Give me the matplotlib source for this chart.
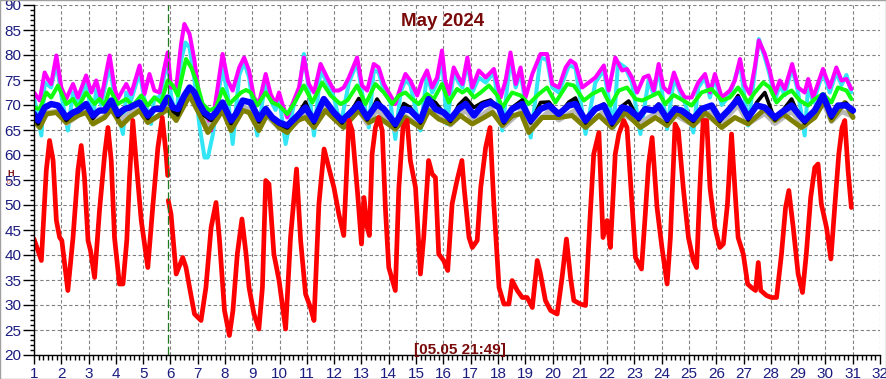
import numpy as np
import matplotlib
matplotlib.use("Agg")
import matplotlib.pyplot as plt
from matplotlib.ticker import MultipleLocator

plt.rcParams["font.family"] = ["Liberation Sans", "DejaVu Sans"]

# Dados (dia do mês, valor)
red_day = [1.00, 1.27, 1.45, 1.57, 1.70, 1.82, 1.94, 2.02, 2.24, 2.43, 2.61, 2.73, 2.85, 2.98, 3.07, 3.22,
           3.40, 3.59, 3.71, 3.83, 3.95, 4.13, 4.26, 4.40, 4.50, 4.62, 4.74, 4.93, 5.17, 5.35, 5.54, 5.70,
           5.84, 5.90, 5.91, 5.92, 6.02, 6.21, 6.45, 6.57, 6.70, 6.88, 7.12, 7.30, 7.49, 7.67, 7.79, 7.98,
           8.16, 8.29, 8.45, 8.62, 8.77, 8.88, 9.06, 9.24, 9.37, 9.49, 9.61, 9.79, 9.98, 10.22, 10.40, 10.62,
           10.77, 10.95, 11.13, 11.26, 11.44, 11.63, 11.80, 11.99, 12.17, 12.35, 12.54, 12.66, 12.87, 13.00,
           13.09, 13.21, 13.29, 13.39, 13.51, 13.63, 13.76, 13.88, 14.00, 14.24, 14.37, 14.52, 14.67, 14.79,
           14.98, 15.16, 15.28, 15.46, 15.59, 15.71, 15.83, 16.01, 16.16, 16.32, 16.50, 16.68, 16.76, 16.94,
           17.06, 17.24, 17.37, 17.55, 17.71, 17.85, 18.04, 18.22, 18.40, 18.52, 18.71, 18.89, 19.07, 19.26,
           19.44, 19.56, 19.74, 19.93, 20.17, 20.35, 20.51, 20.66, 20.78, 21.02, 21.21, 21.37, 21.51, 21.70,
           21.85, 22.00, 22.12, 22.30, 22.43, 22.61, 22.73, 22.85, 23.04, 23.26, 23.40, 23.52, 23.65, 23.83,
           24.01, 24.20, 24.32, 24.49, 24.61, 24.79, 24.98, 25.16, 25.28, 25.40, 25.52, 25.65, 25.77, 25.95,
           26.13, 26.26, 26.41, 26.56, 26.68, 26.80, 26.99, 27.15, 27.29, 27.44, 27.54, 27.63, 27.84, 28.02,
           28.21, 28.39, 28.54, 28.66, 28.82, 29.00, 29.16, 29.30, 29.46, 29.61, 29.73, 29.85, 30.04, 30.20,
           30.34, 30.49, 30.61, 30.71, 30.83, 30.95]
red_val = [43.2, 38.9, 56.9, 62.9, 58.9, 46.9, 43.5, 42.9, 32.9, 43.5, 56.9, 61.9, 55.5, 42.9, 40.9, 35.5,
           48.9, 60.2, 65.5, 58.9, 43.5, 34.2, 34.2, 42.9, 55.5, 66.9, 58.9, 46.9, 37.5, 49.5, 61.5, 67.5,
           60.2, 55.9, np.nan, 50.9, 48.2, 36.2, 39.5, 37.5, 33.5, 28.2, 26.9, 33.5, 45.5, 50.5, 43.5, 28.9,
           23.9, 28.9, 40.2, 47.2, 40.2, 33.5, 28.2, 25.2, 33.5, 54.9, 54.2, 40.2, 34.9, 25.2, 43.5, 57.2,
           42.9, 32.2, 29.5, 26.9, 50.2, 61.2, 57.5, 53.5, 48.2, 43.9, 66.9, 64.9, 51.5, 42.2,
           51.5, 45.5, 43.9, 60.2, 65.5, 67.5, 64.9, 48.9, 37.5, 32.9, 53.5, 65.5, 66.9, 58.9,
           53.5, 36.2, 43.5, 58.9, 56.2, 55.5, 40.2, 38.9, 36.9, 50.2, 54.9, 58.9, 53.5, 43.5,
           41.5, 42.9, 53.5, 61.5, 65.5, 50.2, 33.5, 30.2, 30.2, 34.9, 32.9, 31.5, 31.5, 29.5,
           38.9, 36.2, 30.9, 28.9, 28.2, 35.5, 43.2, 35.5, 30.9, 30.2, 29.9, 46.9, 60.2, 64.5,
           43.5, 46.9, 41.5, 60.2, 64.2, 66.9, 65.5, 55.5, 39.5, 37.2, 48.2, 58.2, 63.5, 49.5,
           41.5, 34.2, 43.5, 66.2, 64.9, 53.5, 43.5, 38.9, 37.5, 53.5, 66.9, 66.9, 53.5, 45.5,
           41.5, 42.2, 50.2, 64.2, 53.5, 43.5, 40.2, 34.2, 33.5, 32.9, 38.5, 32.9, 31.9, 31.5,
           31.5, 40.2, 49.5, 52.9, 45.5, 36.2, 32.5, 40.2, 51.5, 57.5, 58.2, 50.2, 45.5, 39.2,
           49.5, 60.2, 65.5, 66.9, 56.9, 49.5]

magenta_day = [1.00, 1.21, 1.39, 1.51, 1.63, 1.82, 2.00, 2.18, 2.43, 2.61, 2.91, 3.10, 3.28, 3.46, 3.77, 3.95,
               4.07, 4.38, 4.56, 4.87, 5.05, 5.23, 5.41, 5.60, 5.78, 5.90, 6.02, 6.21, 6.39, 6.51, 6.70, 6.88,
               7.06, 7.30, 7.49, 7.73, 7.91, 8.10, 8.28, 8.52, 8.70, 8.88, 9.06, 9.24, 9.49, 9.67, 9.85, 9.98,
               10.10, 10.28, 10.52, 10.71, 10.89, 11.07, 11.26, 11.50, 11.74, 11.99, 12.17, 12.35, 12.54, 12.84,
               13.02, 13.21, 13.45, 13.63, 13.82, 14.06, 14.24, 14.43, 14.61, 14.79, 15.04, 15.22, 15.40, 15.59,
               15.77, 15.95, 16.07, 16.20, 16.38, 16.56, 16.70, 16.88, 17.06, 17.30, 17.55, 17.85, 18.10, 18.28,
               18.46, 18.65, 18.83, 19.01, 19.26, 19.56, 19.80, 19.99, 20.23, 20.48, 20.66, 20.84, 21.09, 21.33,
               21.57, 21.88, 22.06, 22.30, 22.55, 22.73, 22.91, 23.10, 23.34, 23.52, 23.71, 23.89, 24.07, 24.26,
               24.45, 24.67, 24.85, 25.10, 25.34, 25.59, 25.77, 25.95, 26.20, 26.50, 26.68, 26.87, 27.05, 27.23,
               27.41, 27.56, 27.78, 27.96, 28.15, 28.33, 28.51, 28.78, 29.00, 29.24, 29.37, 29.55, 29.91, 30.16,
               30.40, 30.59, 30.77, 30.95]
magenta_val = [72.5, 70.9, 76.5, 75.2, 74.2, 79.9, 73.5, 71.2, 74.2, 71.5, 75.9, 72.5, 74.9, 71.2, 79.9, 73.5,
               71.2, 74.2, 72.2, 77.9, 72.2, 76.2, 72.9, 72.5, 77.5, 80.5, 73.5, 73.5, 82.2, 86.2, 84.2, 78.9,
               71.5, 67.5, 64.9, 73.5, 80.2, 74.9, 72.9, 77.5, 79.5, 76.9, 71.5, 70.2, 76.2, 72.2, 70.2, 72.5,
               70.2, 67.5, 70.9, 73.5, 79.5, 74.2, 72.5, 78.2, 75.5, 72.9, 72.9, 73.5, 75.5, 79.5,
               73.9, 72.9, 78.2, 77.5, 74.2, 71.9, 70.2, 73.5, 76.2, 74.9, 71.9, 74.9, 76.9, 73.5,
               75.5, 80.9, 74.9, 72.2, 77.5, 75.5, 74.2, 79.5, 73.5, 76.9, 75.5, 77.2, 71.5, 74.9,
               80.5, 74.2, 77.5, 71.5, 76.2, 80.2, 80.2, 74.2, 73.5, 77.5, 78.9, 78.2, 73.5, 74.5,
               75.5, 77.9, 72.9, 79.5, 76.9, 77.2, 75.5, 72.5, 75.5, 75.9, 72.9, 78.2, 73.5, 72.5,
               76.5, 73.2, 71.5, 71.5, 74.5, 76.2, 72.5, 76.2, 71.5, 72.9, 74.9, 79.2, 73.9, 72.2,
               77.5, 82.9, 80.2, 76.9, 72.2, 74.9, 73.2, 78.2, 73.5, 72.5, 75.2, 71.5, 77.2, 73.5,
               77.5, 74.9, 75.2, 73.2]

cyan_day = [1.00, 1.27, 1.39, 1.51, 1.63, 1.82, 2.00, 2.24, 2.43, 2.61, 2.91, 3.16, 3.28, 3.46, 3.77, 4.00,
            4.26, 4.38, 4.56, 4.87, 5.05, 5.29, 5.41, 5.60, 5.90, 6.02, 6.21, 6.39, 6.55, 6.70, 6.88, 7.06,
            7.25, 7.37, 7.55, 7.73, 7.91, 8.10, 8.28, 8.52, 8.70, 8.88, 9.18, 9.49, 9.67, 9.85, 9.98, 10.22,
            10.52, 10.71, 10.89, 11.07, 11.26, 11.50, 11.74, 11.99, 12.23, 12.54, 12.84, 13.02, 13.27, 13.45,
            13.63, 13.82, 14.06, 14.24, 14.43, 14.61, 14.79, 15.16, 15.40, 15.59, 15.77, 15.95, 16.13, 16.38,
            16.56, 16.70, 16.88, 17.06, 17.30, 17.55, 17.85, 18.16, 18.46, 18.65, 18.83, 19.20, 19.56, 19.80,
            19.99, 20.23, 20.60, 20.84, 21.21, 21.57, 21.88, 22.24, 22.40, 22.67, 22.91, 23.22, 23.52, 23.71,
            23.89, 24.20, 24.45, 24.67, 24.85, 25.16, 25.34, 25.59, 25.77, 25.95, 26.20, 26.50, 26.87, 27.17,
            27.41, 27.56, 27.78, 27.96, 28.15, 28.33, 28.51, 28.78, 29.00, 29.24, 29.37, 29.55, 29.91, 30.16,
            30.40, 30.59, 30.77, 30.95]
cyan_val = [71.5, 63.9, 74.5, 74.0, 73.5, 78.5, 72.0, 64.9, 72.5, 70.5, 74.5, 66.9, 73.0, 70.0, 78.0, 70.0,
            64.2, 72.5, 71.0, 76.5, 71.0, 66.2, 71.5, 71.5, 79.0, 72.0, 66.9, 79.0, 82.5, 81.5, 75.0, 66.0,
            59.5, 59.5, 64.0, 71.5, 77.5, 72.0, 62.2, 76.0, 78.5, 75.5, 63.9, 75.0, 71.0, 69.0, 71.5, 62.2,
            70.0, 72.5, 80.2, 73.0, 63.9, 77.0, 74.5, 71.5, 65.9, 74.5, 78.5, 72.5, 65.5, 77.0,
            76.5, 73.0, 70.5, 63.2, 72.5, 75.0, 74.0, 64.9, 76.0, 72.5, 74.5, 79.5, 66.2, 76.5,
            74.5, 73.5, 78.5, 72.5, 75.5, 74.5, 76.5, 64.9, 79.5, 73.5, 76.5, 63.5, 79.5, 79.0,
            73.5, 72.5, 77.9, 77.5, 64.2, 74.5, 77.0, 65.5, 78.5, 77.5, 74.5, 64.2, 75.0, 72.0,
            77.5, 65.2, 75.5, 72.5, 70.5, 64.5, 73.5, 75.5, 71.5, 75.5, 70.0, 72.0, 78.5, 65.9,
            76.5, 83.2, 79.5, 76.0, 71.0, 74.0, 72.0, 77.5, 72.5, 63.9, 74.0, 70.5, 76.5, 72.5,
            76.5, 74.0, 76.0, 72.5]

green_day = [1.00, 1.21, 1.45, 1.63, 1.88, 2.18, 2.43, 2.61, 2.91, 3.22, 3.40, 3.59, 3.77, 4.07, 4.38, 4.62,
             4.93, 5.17, 5.41, 5.66, 5.90, 6.09, 6.27, 6.57, 6.76, 6.94, 7.18, 7.43, 7.67, 7.91, 8.16, 8.34,
             8.59, 8.77, 8.94, 9.18, 9.49, 9.73, 9.98, 10.28, 10.52, 10.89, 11.20, 11.56, 11.87, 12.23, 12.48,
             12.84, 13.15, 13.51, 13.82, 14.12, 14.37, 14.61, 14.85, 15.10, 15.40, 15.65, 15.95, 16.20, 16.50,
             16.70, 16.88, 17.12, 17.37, 17.67, 17.98, 18.16, 18.52, 18.83, 19.13, 19.50, 19.80, 20.11, 20.54,
             20.78, 21.15, 21.45, 21.82, 22.12, 22.43, 22.73, 23.04, 23.28, 23.52, 23.89, 24.13, 24.44, 24.79,
             25.10, 25.46, 25.83, 26.20, 26.50, 26.80, 27.17, 27.41, 27.72, 27.96, 28.21, 28.45, 28.76, 29.06,
             29.37, 29.61, 29.91, 30.22, 30.46, 30.77, 30.95]
green_val = [69.5, 69.2, 72.5, 71.5, 73.9, 70.2, 71.2, 69.5, 72.5, 70.2, 71.2, 69.9, 73.2, 70.2, 71.2, 69.9,
             71.9, 69.9, 71.5, 70.5, 74.9, 73.9, 71.9, 79.2, 77.5, 74.9, 70.2, 68.9, 69.5, 73.2, 70.2, 71.2,
             72.5, 73.0, 72.5, 69.9, 72.5, 70.5, 69.9, 68.2, 70.2, 73.9, 70.5, 74.5, 71.9, 70.2, 70.9,
             73.9, 70.2, 74.2, 72.5, 70.2, 71.9, 72.5, 71.2, 70.2, 72.2, 71.2, 74.2, 70.5, 73.2,
             72.5, 73.2, 71.5, 72.5, 73.9, 71.9, 69.5, 72.5, 71.9, 70.2, 72.2, 73.5, 70.5, 74.2,
             73.9, 70.9, 72.2, 73.2, 69.9, 72.9, 73.5, 71.2, 70.9, 71.5, 72.5, 70.2, 72.0, 70.9,
             69.9, 72.5, 73.2, 70.9, 71.5, 73.5, 70.5, 72.5, 74.5, 73.5, 70.5, 71.9, 72.9, 70.9,
             69.9, 71.2, 72.2, 70.5, 73.5, 72.9, 71.2]

gray_day = [1.00, 1.20, 1.50, 1.90, 2.20, 2.60, 2.90, 3.20, 3.60, 3.85, 4.10, 4.50, 4.90, 5.20, 5.60, 5.90,
            6.20, 6.70, 7.06, 7.35, 7.70, 7.90, 8.20, 8.65, 8.90, 9.25, 9.50, 10.00, 10.28, 10.60, 10.95,
            11.26, 11.62, 12.00, 12.30, 12.90, 13.21, 13.57, 14.24, 14.55, 15.16, 15.46, 16.00, 16.26, 16.82,
            17.12, 17.73, 18.22, 18.89, 19.20, 19.87, 20.23, 20.84, 21.21, 21.88, 22.18, 22.55, 23.16, 23.89,
            24.20, 24.49, 25.16, 25.83, 26.13, 26.80, 27.17, 27.78, 28.15, 28.76, 29.24, 29.91, 30.22, 30.60,
            31.01]
gray_val = [67.0, 65.8, 68.5, 68.8, 66.3, 67.8, 69.0, 66.6, 67.8, 69.6, 66.8, 68.3, 69.3, 66.6, 68.0, 70.2,
            67.8, 72.2, 69.0, 65.6, 67.4, 69.4, 65.6, 69.6, 69.2, 65.9, 68.0, 65.3, 64.8, 66.4, 68.3,
            65.7, 70.0, 67.3, 65.7, 69.0, 66.3, 69.0, 65.0, 68.0, 65.7, 70.0, 67.3, 66.0, 69.0,
            66.7, 69.3, 65.7, 69.0, 65.7, 68.7, 67.0, 69.0, 65.7, 68.7, 65.3, 68.3, 66.3, 68.7,
            66.0, 68.0, 66.0, 68.7, 66.0, 70.0, 66.3, 68.3, 66.3, 68.7, 65.7, 70.7, 66.7, 68.7,
            67.7]

olive_day = [1.00, 1.21, 1.45, 1.82, 2.18, 2.61, 2.91, 3.16, 3.59, 3.83, 4.20, 4.50, 4.87, 5.17, 5.66, 5.90,
             6.21, 6.70, 7.06, 7.37, 7.67, 7.91, 8.22, 8.65, 8.88, 9.24, 9.55, 9.98, 10.28, 10.65, 10.95,
             11.26, 11.68, 12.00, 12.35, 12.90, 13.27, 13.63, 14.24, 14.61, 15.16, 15.46, 15.83, 16.26, 16.62,
             17.06, 17.49, 17.80, 18.16, 18.52, 18.85, 19.13, 19.62, 20.23, 20.72, 21.21, 21.70, 22.18, 22.67,
             23.22, 23.77, 24.20, 24.58, 25.16, 25.59, 26.20, 26.68, 27.17, 27.78, 28.15, 28.45, 29.12, 29.61,
             29.98, 30.22, 30.71, 31.01]
olive_val = [66.9, 65.5, 68.2, 68.5, 66.5, 67.9, 68.5, 66.2, 67.5, 69.2, 65.9, 67.5, 68.9, 66.5, 68.2, 69.2,
             66.9, 71.9, 68.2, 64.5, 66.9, 68.9, 64.9, 68.9, 68.5, 64.9, 68.2, 65.5, 64.5, 66.9, 67.5,
             65.5, 68.9, 67.2, 65.5, 68.9, 66.5, 67.5, 65.2, 67.5, 65.5, 68.9, 67.2, 66.2, 67.9,
             66.2, 67.5, 68.5, 65.9, 67.8, 68.3, 64.5, 67.5, 67.5, 67.9, 65.5, 67.9, 65.5, 68.5,
             65.5, 67.5, 65.9, 68.5, 65.9, 68.5, 65.5, 67.5, 66.2, 69.2, 66.9, 68.2, 65.5, 67.5,
             71.0, 66.9, 70.5, 67.5]

blue_day = [1.00, 1.15, 1.39, 1.63, 1.88, 2.18, 2.43, 2.61, 2.91, 3.16, 3.40, 3.59, 3.83, 4.07, 4.32, 4.50,
            4.87, 5.17, 5.41, 5.66, 5.90, 6.09, 6.27, 6.51, 6.70, 6.88, 7.06, 7.24, 7.49, 7.67, 7.91, 8.22,
            8.40, 8.65, 8.94, 9.24, 9.49, 9.73, 9.98, 10.28, 10.59, 10.95, 11.26, 11.62, 11.99, 12.29, 12.60,
            12.90, 13.21, 13.57, 13.82, 14.24, 14.55, 14.79, 15.16, 15.46, 15.71, 16.01, 16.26, 16.56, 16.82,
            17.12, 17.43, 17.73, 18.04, 18.22, 18.52, 18.89, 19.20, 19.56, 19.87, 20.23, 20.60, 20.84, 21.21,
            21.57, 21.88, 22.18, 22.55, 22.79, 23.16, 23.40, 23.71, 23.89, 24.20, 24.49, 24.73, 25.16, 25.46,
            25.83, 26.13, 26.44, 26.80, 27.17, 27.48, 27.78, 28.15, 28.39, 28.76, 29.06, 29.24, 29.61, 29.91,
            30.22, 30.46, 30.77, 31.01]
blue_val = [68.2, 66.9, 69.5, 70.2, 69.9, 67.5, 68.5, 68.9, 70.2, 67.9, 68.9, 68.9, 70.9, 68.2, 69.2, 69.5,
            70.5, 67.9, 69.2, 69.2, 71.5, 69.5, 69.2, 71.9, 73.5, 72.5, 70.2, 68.5, 67.5, 68.5, 70.5, 66.9,
            68.2, 70.9, 70.5, 67.2, 69.2, 67.5, 66.5, 65.9, 67.5, 69.5, 66.9, 71.2, 68.5, 66.9, 68.5,
            70.2, 67.5, 70.2, 69.2, 66.2, 69.2, 68.9, 66.9, 71.2, 69.2, 68.5, 67.2, 69.2, 70.2,
            67.9, 69.9, 70.5, 69.5, 66.9, 69.2, 70.2, 66.9, 69.2, 69.9, 68.2, 69.9, 70.2, 66.9,
            69.2, 69.9, 66.5, 69.5, 69.2, 67.5, 69.2, 68.9, 69.9, 67.2, 69.2, 68.9, 67.2, 69.2,
            69.9, 67.2, 68.9, 71.2, 67.5, 69.9, 69.5, 67.5, 68.5, 69.9, 67.9, 66.9, 68.9, 71.9,
            67.9, 69.9, 69.9, 68.9]

# a série preta quase coincide com a azul; aparece só em alguns picos e vales
black_day = blue_day
black_val = [67.6, 66.2, 69.3, 70.0, 69.8, 66.9, 68.3, 68.8, 70.2, 67.3, 68.7, 68.8, 71.0, 67.6, 69.0, 69.3,
             70.5, 67.3, 69.0, 69.1, 71.6, 68.8, 68.0, 71.7, 73.6, 72.4, 69.8, 67.9, 66.9, 68.2, 70.5, 66.3,
             68.0, 70.9, 70.4, 66.6, 69.0, 67.2, 66.2, 65.4, 67.4, 70.6, 66.4, 71.3, 68.2, 66.4, 68.5,
             71.3, 67.0, 71.2, 69.0, 65.7, 70.3, 69.5, 66.4, 71.2, 70.5, 68.4, 66.7, 70.0, 71.4,
             69.5, 70.5, 71.0, 69.3, 66.4, 69.5, 71.0, 66.4, 70.5, 70.6, 68.0, 70.6, 71.4, 66.4,
             69.2, 70.2, 66.0, 69.8, 70.8, 67.0, 69.2, 68.8, 70.2, 66.7, 69.6, 68.8, 66.7, 69.2,
             70.0, 66.7, 68.9, 71.9, 67.0, 70.5, 72.5, 67.0, 68.6, 71.2, 67.6, 66.4, 68.9, 71.5,
             67.4, 69.9, 70.4, 68.6]

dias_ticks = list(range(1, 33))
marcador_dia = 5 + (21 + 49 / 60) / 24
titulo = "May 2024"
texto_cursor = "[05.05 21:49]"

cor_texto = "#7a0a0a"
cor_eixo = "#1c1c80"

fig = plt.figure(figsize=(8.86, 3.79), dpi=100)
fig.patch.set_facecolor("white")
ax = fig.add_axes([34 / 886, 24 / 379, 846 / 886, 350 / 379])

# Séries (ordem de desenho: de trás para frente)
series = [
    (cyan_day, cyan_val, "#33e6f5", 2.9),
    (magenta_day, magenta_val, "#ff00ff", 2.9),
    (green_day, green_val, "#11ff11", 2.9),
    (gray_day, gray_val, "#b8b8b8", 3.6),
    (olive_day, olive_val, "#808000", 3.6),
    (black_day, black_val, "black", 2.6),
    (blue_day, blue_val, "#0505ff", 4.6),
    (red_day, red_val, "#ff0000", 3.4),
]
for dias, valores, cor, lw in series:
    ax.plot(dias, valores, color=cor, linewidth=lw, solid_joinstyle="round", solid_capstyle="round")

ax.axvline(marcador_dia, color="#1f7a1f", linewidth=0.9, dashes=(7, 2.5))

ax.set_xlim(1, 32)
ax.set_ylim(20, 90)
ax.xaxis.set_major_locator(MultipleLocator(1))
ax.xaxis.set_minor_locator(MultipleLocator(1 / 6))
ax.yaxis.set_major_locator(MultipleLocator(5))
ax.yaxis.set_minor_locator(MultipleLocator(1))
ax.set_xticks(dias_ticks)

ax.grid(True, which="major", color="#808080", linewidth=0.8, dashes=(3, 2.2))
ax.tick_params(axis="y", which="major", length=8, width=1, pad=1, labelsize=11, labelcolor=cor_eixo)
ax.tick_params(axis="y", which="minor", length=3, width=1)
ax.tick_params(axis="x", which="major", length=6.5, width=1, pad=2.5, labelsize=11, labelcolor=cor_eixo)
ax.tick_params(axis="x", which="minor", length=3.5, width=1)

for lado in ["top", "right"]:
    ax.spines[lado].set_visible(False)
ax.spines["left"].set_linewidth(1)
ax.spines["bottom"].set_linewidth(1)

fig.text(443 / 886, 1 - 21 / 379, titulo, ha="center", va="center",
         fontsize=13.5, fontweight="bold", color=cor_texto)
fig.text(459.5 / 886, 1 - 350 / 379, texto_cursor, ha="center", va="center",
         fontsize=11, fontweight="bold", color=cor_texto)
fig.text(11 / 886, 1 - 173 / 379, "H", ha="center", va="center",
         fontsize=6.5, fontweight="bold", color=cor_texto)
fig.text(9 / 886, 1 - 183 / 379, "o", ha="center", va="center",
         fontsize=5, color="#c04040")

# borda da figura
fig.add_artist(plt.Rectangle((0, 0), 1, 1, transform=fig.transFigure, fill=False,
                             edgecolor="#a0a0a0", linewidth=1))

fig.savefig("out.png", dpi=100)
